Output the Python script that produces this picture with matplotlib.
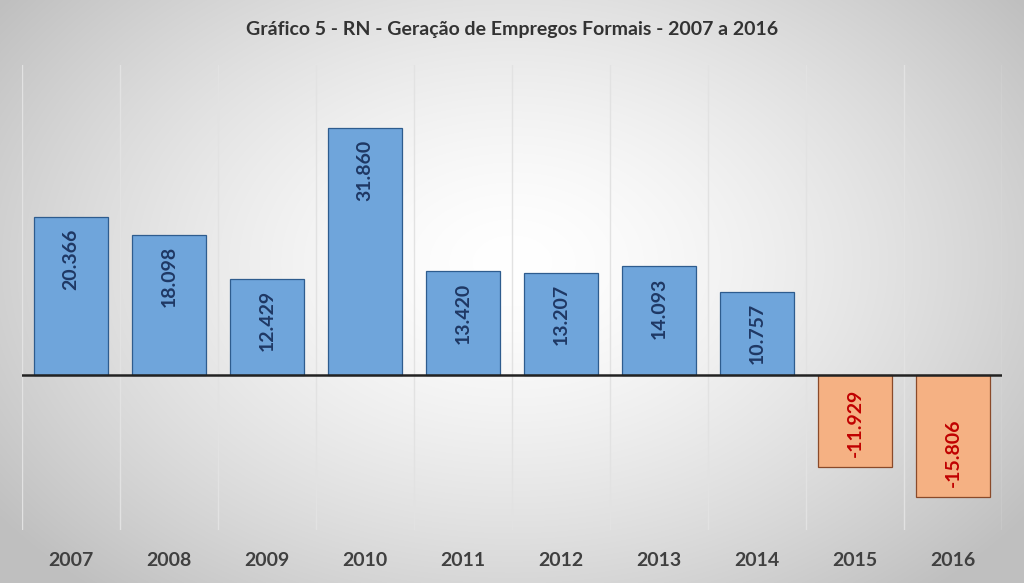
import matplotlib
matplotlib.use("Agg")
import matplotlib.pyplot as plt
import numpy as np

years = ["2007", "2008", "2009", "2010", "2011", "2012", "2013", "2014", "2015", "2016"]
values = [20366, 18098, 12429, 31860, 13420, 13207, 14093, 10757, -11929, -15806]
labels = ["20.366", "18.098", "12.429", "31.860", "13.420", "13.207", "14.093", "10.757", "-11.929", "-15.806"]
title = "Gráfico 5 - RN - Geração de Empregos Formais - 2007 a 2016"

plt.rcParams['font.family'] = ['Lato', 'DejaVu Sans']

W, H = 1024, 583
fig = plt.figure(figsize=(W/100, H/100), dpi=100)

# radial gradient background
bg = fig.add_axes([0, 0, 1, 1])
yy, xx = np.mgrid[0:H, 0:W]
r = np.sqrt(((xx - W/2) / (W*0.62))**2 + ((yy - H*0.45) / (H*0.75))**2)
r = np.clip(r, 0, 1)
g = 1.0 - 0.25 * r**1.5
bg.imshow(np.dstack([g, g, g]), extent=[0, 1, 0, 1], aspect='auto', origin='upper')
bg.set_axis_off()

left, right, top, bottom = 22, 1002, 65, 530
ax = fig.add_axes([left/W, 1 - bottom/H, (right-left)/W, (bottom-top)/H])
ax.patch.set_alpha(0)

x = np.arange(len(years))
pos_color, pos_edge = "#6FA5DB", "#2E5C8E"
neg_color, neg_edge = "#F5B183", "#8A4A2A"
colors = [pos_color if v >= 0 else neg_color for v in values]
edges = [pos_edge if v >= 0 else neg_edge for v in values]
ax.bar(x, values, width=0.76, color=colors, edgecolor=edges, linewidth=0.9, zorder=3)

ax.set_xlim(-0.5, len(years) - 0.5)
ax.set_ylim(-20000, 40000)

for b in np.arange(-0.5, len(years), 1.0):
    ax.axvline(b, color="#e2e2e2", linewidth=1.0, zorder=1)
ax.axhline(0, color="#222222", linewidth=1.8, zorder=4)

for xi, v, lab in zip(x, values, labels):
    if v >= 0:
        ax.text(xi, v - 1500, lab, rotation=90, ha='center', va='top',
                fontsize=14, fontweight='bold', color="#1F3864", zorder=5)
    else:
        ax.text(xi, v + 1300, lab, rotation=90, ha='center', va='bottom',
                fontsize=14, fontweight='bold', color="#C00000", zorder=5)

ax.set_yticks([])
ax.set_xticks(x)
ax.set_xticklabels(years, fontsize=14, fontweight='bold', color="#404040")
ax.tick_params(axis='x', length=0, pad=16)
for s in ax.spines.values():
    s.set_visible(False)

fig.text(0.5, 1 - 30/H, title, ha='center', va='center', fontsize=14,
         fontweight='bold', color="#333333")

fig.savefig("out.png", dpi=100)
